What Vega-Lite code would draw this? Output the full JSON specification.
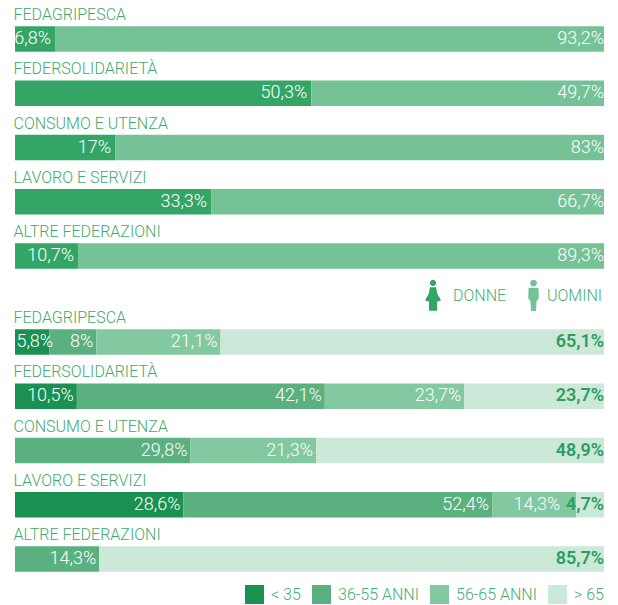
{
"$schema":"https://vega.github.io/schema/vega-lite/v6.json",
"padding":{"left":13,"top":6,"right":0,"bottom":0},
"background":"white",
"bounds":"flush",
"spacing":32,
"resolve":{"scale":{"color":"independent","shape":"independent"}},
"config":{"view":{"stroke":null},"text":{"font":"Roboto"},
"axisY":{"domain":false,"ticks":false,"grid":false,"title":null,"labelAlign":"left","labelPadding":2,"labelBaseline":"middle","labelOffset":-24,"labelFont":"Roboto","labelFontSize":16,"labelColor":"#3fa96f","labelFontWeight":300},
"legend":{"labelFont":"Roboto","labelFontSize":16,"labelColor":"#45ad75","title":null,"labelFontWeight":300}},
"datasets":{
"gender":[
{"fed":"FEDAGRIPESCA","genere":"DONNE","value":6.8,"label":"6,8%"},
{"fed":"FEDAGRIPESCA","genere":"UOMINI","value":93.2,"label":"93,2%"},
{"fed":"FEDERSOLIDARIETÀ","genere":"DONNE","value":50.3,"label":"50,3%"},
{"fed":"FEDERSOLIDARIETÀ","genere":"UOMINI","value":49.7,"label":"49,7%"},
{"fed":"CONSUMO E UTENZA","genere":"DONNE","value":17,"label":"17%"},
{"fed":"CONSUMO E UTENZA","genere":"UOMINI","value":83,"label":"83%"},
{"fed":"LAVORO E SERVIZI","genere":"DONNE","value":33.3,"label":"33,3%"},
{"fed":"LAVORO E SERVIZI","genere":"UOMINI","value":66.7,"label":"66,7%"},
{"fed":"ALTRE FEDERAZIONI","genere":"DONNE","value":10.7,"label":"10,7%"},
{"fed":"ALTRE FEDERAZIONI","genere":"UOMINI","value":89.3,"label":"89,3%"}],
"age":[
{"fed":"FEDAGRIPESCA","fascia":"< 35","ord":1,"value":5.8,"label":"5,8%"},
{"fed":"FEDAGRIPESCA","fascia":"36-55 ANNI","ord":2,"value":8,"label":"8%"},
{"fed":"FEDAGRIPESCA","fascia":"56-65 ANNI","ord":3,"value":21.1,"label":"21,1%"},
{"fed":"FEDAGRIPESCA","fascia":"> 65","ord":4,"value":65.1,"label":"65,1%"},
{"fed":"FEDERSOLIDARIETÀ","fascia":"< 35","ord":1,"value":10.5,"label":"10,5%"},
{"fed":"FEDERSOLIDARIETÀ","fascia":"36-55 ANNI","ord":2,"value":42.1,"label":"42,1%"},
{"fed":"FEDERSOLIDARIETÀ","fascia":"56-65 ANNI","ord":3,"value":23.7,"label":"23,7%"},
{"fed":"FEDERSOLIDARIETÀ","fascia":"> 65","ord":4,"value":23.7,"label":"23,7%"},
{"fed":"CONSUMO E UTENZA","fascia":"36-55 ANNI","ord":2,"value":29.8,"label":"29,8%"},
{"fed":"CONSUMO E UTENZA","fascia":"56-65 ANNI","ord":3,"value":21.3,"label":"21,3%"},
{"fed":"CONSUMO E UTENZA","fascia":"> 65","ord":4,"value":48.9,"label":"48,9%"},
{"fed":"LAVORO E SERVIZI","fascia":"< 35","ord":1,"value":28.6,"label":"28,6%"},
{"fed":"LAVORO E SERVIZI","fascia":"36-55 ANNI","ord":2,"value":52.4,"label":"52,4%"},
{"fed":"LAVORO E SERVIZI","fascia":"56-65 ANNI","ord":3,"value":14.3,"label":"14,3%"},
{"fed":"LAVORO E SERVIZI","fascia":"> 65","ord":4,"value":4.7,"label":"4,7%"},
{"fed":"ALTRE FEDERAZIONI","fascia":"36-55 ANNI","ord":2,"value":14.3,"label":"14,3%"},
{"fed":"ALTRE FEDERAZIONI","fascia":"> 65","ord":4,"value":85.7,"label":"85,7%"}]
},
"vconcat":[
{"width":589,"height":271,
"data":{"name":"gender"},
"transform":[{"stack":"value","groupby":["fed"],"sort":[{"field":"genere"}],"as":["x0","x1"]}],
"encoding":{
"y":{"field":"fed","type":"nominal","sort":null,"scale":{"domain":["FEDAGRIPESCA","FEDERSOLIDARIETÀ","CONSUMO E UTENZA","LAVORO E SERVIZI","ALTRE FEDERAZIONI"],"paddingInner":0.53,"paddingOuter":0.265}}
},
"layer":[
{"mark":{"type":"bar"},"encoding":{
"x":{"field":"x0","type":"quantitative","axis":null,"scale":{"domain":[0,100],"nice":false}},"x2":{"field":"x1"},
"color":{"field":"genere","type":"nominal","scale":{"domain":["DONNE","UOMINI"],"range":["#33a666","#74c296"]},"legend":{"orient":"none","legendX":404,"legendY":267,"direction":"horizontal","symbolSize":961,"symbolOpacity":1,"labelOffset":1,"columnPadding":6}}}},
{"mark":{"type":"point","filled":true,"size":0,"opacity":1},"encoding":{
"x":{"field":"x1","type":"quantitative"},
"color":{"field":"genere","type":"nominal","legend":{"orient":"none","legendX":404,"legendY":267,"direction":"horizontal","symbolSize":961,"symbolOpacity":1,"labelOffset":1,"columnPadding":6}},
"shape":{"field":"genere","type":"nominal","scale":{"domain":["DONNE","UOMINI"],"range":["M-.36 -.82 A.2 .2 0 1 1 .04 -.82 A.2 .2 0 1 1 -.36 -.82 Z M-.36 -.55 L.04 -.55 L.12 -.1 L.36 .3 L.1 .4 L.1 .98 L-.42 .98 L-.42 .4 L-.68 .3 L-.44 -.1 Z","M.04 -.8 A.22 .22 0 1 1 .48 -.8 A.22 .22 0 1 1 .04 -.8 Z M-.06 -.5 L.58 -.5 L.6 .2 L.46 .35 L.42 1 L.1 1 L.06 .35 L-.08 .2 Z"]},"legend":{"orient":"none","legendX":404,"legendY":267,"direction":"horizontal","symbolSize":961,"symbolOpacity":1,"labelOffset":1,"columnPadding":6}}}},
{"transform":[{"filter":"datum.genere==='DONNE'"}],"mark":{"type":"text","align":"right","baseline":"middle","dx":-4,"color":"white","fontSize":18,"fontWeight":300},"encoding":{"x":{"field":"x1","type":"quantitative"},"text":{"field":"label"}}},
{"transform":[{"filter":"datum.genere==='UOMINI'"}],"mark":{"type":"text","align":"right","baseline":"middle","color":"white","fontSize":18,"fontWeight":300},"encoding":{"x":{"field":"x1","type":"quantitative"},"text":{"field":"label"}}}
]},
{"width":589,"height":271,
"data":{"name":"age"},
"transform":[{"stack":"value","groupby":["fed"],"sort":[{"field":"ord"}],"as":["x0","x1"]}],
"encoding":{
"y":{"field":"fed","type":"nominal","sort":null,"scale":{"domain":["FEDAGRIPESCA","FEDERSOLIDARIETÀ","CONSUMO E UTENZA","LAVORO E SERVIZI","ALTRE FEDERAZIONI"],"paddingInner":0.53,"paddingOuter":0.265}}
},
"layer":[
{"mark":{"type":"bar"},"encoding":{
"x":{"field":"x0","type":"quantitative","axis":null,"scale":{"domain":[0,100],"nice":false}},"x2":{"field":"x1"},
"color":{"field":"fascia","type":"nominal","sort":null,"scale":{"domain":["< 35","36-55 ANNI","56-65 ANNI","> 65"],"range":["#1a9150","#5bb080","#82c8a0","#cbe8d8"]},"legend":{"orient":"none","legendX":230,"legendY":270,"direction":"horizontal","symbolType":"square","symbolSize":361,"symbolStrokeWidth":0,"labelOffset":7,"columnPadding":11}}}},
{"transform":[{"filter":"datum.fascia!=='> 65' && !(datum.label==='5,8%') && !(datum.fed==='LAVORO E SERVIZI' && datum.label==='14,3%')"}],"mark":{"type":"text","align":"right","baseline":"middle","dx":-3,"color":"white","fontSize":18,"fontWeight":300},"encoding":{"x":{"field":"x1","type":"quantitative"},"text":{"field":"label"}}},
{"transform":[{"filter":"datum.label==='5,8%'"}],"mark":{"type":"text","align":"right","baseline":"middle","dx":4,"color":"white","fontSize":18,"fontWeight":300},"encoding":{"x":{"field":"x1","type":"quantitative"},"text":{"field":"label"}}},
{"transform":[{"filter":"datum.fed==='LAVORO E SERVIZI' && datum.label==='14,3%'"}],"mark":{"type":"text","align":"right","baseline":"middle","dx":-16,"color":"white","fontSize":18,"fontWeight":300},"encoding":{"x":{"field":"x1","type":"quantitative"},"text":{"field":"label"}}},
{"transform":[{"filter":"datum.fascia==='> 65'"}],"mark":{"type":"text","align":"right","baseline":"middle","color":"#2d9d61","fontSize":18,"fontWeight":600},"encoding":{"x":{"field":"x1","type":"quantitative"},"text":{"field":"label"}}}
]}
]
}
